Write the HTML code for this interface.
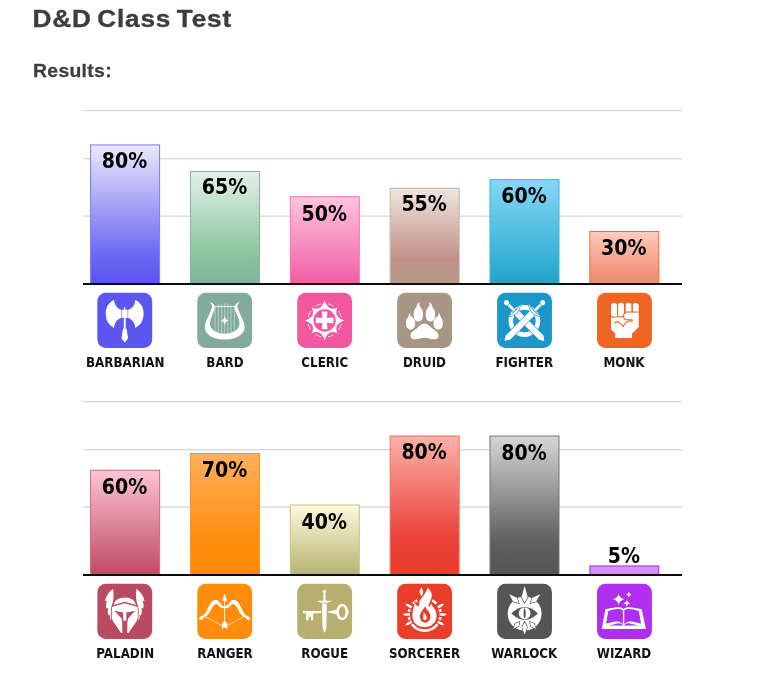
<!DOCTYPE html>
<html lang="en">
<head>
<meta charset="utf-8">
<title>D&amp;D Class Test</title>
<style>
html,body{margin:0;padding:0;background:#fff;}
body{width:768px;height:693px;position:relative;overflow:hidden;font-family:"Liberation Sans",sans-serif;}
h1{position:absolute;left:32px;top:3px;margin:0;font:bold 24.5px/30px "Liberation Sans",sans-serif;color:#403c3c;letter-spacing:0.75px;word-spacing:-2.2px;white-space:nowrap;transform:translate(0.5px,0.3px) scale(1.068,1.01);transform-origin:0 0;-webkit-text-stroke:0.35px #403c3c;}
h2{position:absolute;left:33px;top:58px;margin:0;font:bold 19px/24px "Liberation Sans",sans-serif;color:#403c3c;letter-spacing:0.3px;white-space:nowrap;transform:translate(0px,0.5px) scale(1.02,1.01);transform-origin:0 0;-webkit-text-stroke:0.25px #403c3c;}
#gfx{position:absolute;left:0;top:0;width:768px;height:693px;display:block;}
.pct{position:absolute;width:100px;height:20px;text-align:center;font:bold 19px/20px "DejaVu Sans",sans-serif;color:#000;white-space:nowrap;transform:scaleY(1.1);transform-origin:50% 50%;}
.lbl{position:absolute;width:120px;text-align:center;font:bold 13.9px/16px "DejaVu Sans Condensed","DejaVu Sans",sans-serif;color:#111;white-space:nowrap;transform:translate(0.3px,0.4px) scale(0.952,1.03);transform-origin:50% 50%;}
</style>
</head>
<body>
<h1>D&amp;D Class Test</h1>
<h2>Results:</h2>

<svg id="gfx" width="768" height="693" viewBox="0 0 768 693">
<defs><linearGradient id="g-barbarian" x1="0" y1="0" x2="0" y2="1"><stop offset="0" stop-color="#ebe9fc"/><stop offset="0.80" stop-color="#6b66f2"/><stop offset="1" stop-color="#5a54f0"/></linearGradient><linearGradient id="g-bard" x1="0" y1="0" x2="0" y2="1"><stop offset="0" stop-color="#e4f0e9"/><stop offset="0.73" stop-color="#8cc59f"/><stop offset="1" stop-color="#80b39c"/></linearGradient><linearGradient id="g-cleric" x1="0" y1="0" x2="0" y2="1"><stop offset="0" stop-color="#ffc4de"/><stop offset="0.73" stop-color="#f47ab4"/><stop offset="1" stop-color="#f25ca3"/></linearGradient><linearGradient id="g-druid" x1="0" y1="0" x2="0" y2="1"><stop offset="0" stop-color="#efe6df"/><stop offset="0.74" stop-color="#c09088"/><stop offset="1" stop-color="#b59a85"/></linearGradient><linearGradient id="g-fighter" x1="0" y1="0" x2="0" y2="1"><stop offset="0" stop-color="#84d9f7"/><stop offset="0.73" stop-color="#3cb1d6"/><stop offset="1" stop-color="#22a3c9"/></linearGradient><linearGradient id="g-monk" x1="0" y1="0" x2="0" y2="1"><stop offset="0" stop-color="#fdccbc"/><stop offset="0.78" stop-color="#f1937c"/><stop offset="1" stop-color="#ef8c72"/></linearGradient><linearGradient id="g-paladin" x1="0" y1="0" x2="0" y2="1"><stop offset="0" stop-color="#fcc4d2"/><stop offset="0.73" stop-color="#d06b81"/><stop offset="1" stop-color="#c04a62"/></linearGradient><linearGradient id="g-ranger" x1="0" y1="0" x2="0" y2="1"><stop offset="0" stop-color="#ffb05c"/><stop offset="0.73" stop-color="#ff8c0c"/><stop offset="1" stop-color="#ff8a08"/></linearGradient><linearGradient id="g-rogue" x1="0" y1="0" x2="0" y2="1"><stop offset="0" stop-color="#fbfbdc"/><stop offset="0.73" stop-color="#cbc68e"/><stop offset="1" stop-color="#b9b275"/></linearGradient><linearGradient id="g-sorcerer" x1="0" y1="0" x2="0" y2="1"><stop offset="0" stop-color="#fcb2a9"/><stop offset="0.73" stop-color="#e9413a"/><stop offset="1" stop-color="#ea3e28"/></linearGradient><linearGradient id="g-warlock" x1="0" y1="0" x2="0" y2="1"><stop offset="0" stop-color="#d6d6d6"/><stop offset="0.76" stop-color="#5f5f5f"/><stop offset="1" stop-color="#555555"/></linearGradient><linearGradient id="g-wizard" x1="0" y1="0" x2="0" y2="1"><stop offset="0" stop-color="#d98ffb"/><stop offset="0.50" stop-color="#d98ffb"/><stop offset="1" stop-color="#d98ffb"/></linearGradient></defs>
<rect x="83" y="110.00" width="599" height="1.10" fill="#d2d2d2"/>
<rect x="83" y="158.20" width="599" height="1.10" fill="#d2d2d2"/>
<rect x="83" y="215.40" width="599" height="1.50" fill="#dcdcdc"/>
<rect x="90.60" y="144.90" width="69.00" height="139.10" fill="url(#g-barbarian)" stroke="#7f7af3" stroke-width="1.0"/>
<rect x="190.45" y="171.50" width="69.00" height="112.50" fill="url(#g-bard)" stroke="#86b3a0" stroke-width="1.0"/>
<rect x="290.30" y="196.75" width="69.00" height="87.25" fill="url(#g-cleric)" stroke="#f572b0" stroke-width="1.0"/>
<rect x="390.15" y="188.25" width="69.00" height="95.75" fill="url(#g-druid)" stroke="#c4b4a5" stroke-width="1.0"/>
<rect x="490.00" y="179.60" width="69.00" height="104.40" fill="url(#g-fighter)" stroke="#45b2dc" stroke-width="1.0"/>
<rect x="589.85" y="231.50" width="69.00" height="52.50" fill="url(#g-monk)" stroke="#f06a30" stroke-width="1.0"/>
<rect x="83" y="283" width="599" height="2" fill="#0b0b0b"/>
<rect x="97.35" y="292.70" width="54.85" height="55.20" rx="8.5" ry="8.5" fill="#5c56f0"/>
<svg x="97.35" y="292.70" width="54.85" height="55.20" viewBox="0 0 55 55" preserveAspectRatio="none" fill="#fff"><path d="M16.7 7.3C11 10 8.4 15 8.4 20.6C8.4 27 11 32.3 16.7 35.05C17.3 30 20 26.3 23.9 25.3V17C20 16 17.3 12.3 16.7 7.3Z"/><path d="M38.1 7.3 C43.8 10 46.4 15 46.4 20.6 C46.4 27 43.8 32.3 38.1 35.05 C37.5 30 34.8 26.3 30.9 25.3 V17 C34.8 16 37.5 12.3 38.1 7.3Z"/><path d="M23.9 17H30.9V25.3H23.9Z" opacity=".5"/><path d="M24.95 17H29.95V25.3H24.95Z"/><path d="M26.8 17V15L27.5 14.1L28.2 15V17Z"/><path d="M26.5 25.3H28.4V35.9H29.3L30.9 45.5L27.5 49.5L24.2 45.5L25.6 35.9H26.5Z"/></svg>
<rect x="197.29" y="292.70" width="54.85" height="55.20" rx="8.5" ry="8.5" fill="#82ab9e"/>
<svg x="197.29" y="292.70" width="54.85" height="55.20" viewBox="0 0 55 55" preserveAspectRatio="none" fill="#fff"><path d="M12.2 9C14.3 10.8 15.3 13 14.5 15.5C13 20 9.5 26 8 31C6 38 10.5 43.2 18 45.4C21 46.3 24.5 46.7 27.5 46.7C30.5 46.7 34 46.3 37 45.4C44.500 43.2 49 38 47 31C45.5 26 42 20 40.5 15.5C39.7 13 40.7 10.8 42.8 9C40.5 9.600 38 11.2 37.5 13.8C37.3 16 38.5 19 39.8 22C41.5 26 43 29.5 42 33C40.5 38 34 40.900 27.5 40.900C21 40.900 14.5 38 13 33C12 29.5 13.5 26 15.2 22C16.5 19 17.7 16 17.5 13.8C17 11.2 14.5 9.600 12.2 9Z"/><path d="M16.800 13.8H38.2" stroke="#fff" stroke-width=".8" fill="none"/><path d="M17.8 13.5V38M21.2 12V40M24.4 11V41M27.5 10.3V41M30.600 11V41M33.8 12V40M37.2 13.5V38" stroke="#fff" stroke-width=".55" stroke-opacity=".75" fill="none"/><path d="M27.5 23C27.9 26 29 27.2 31.800 27.8C29 28.4 27.9 29.600 27.5 32.600C27.100 29.600 26 28.4 23.2 27.8C26 27.2 27.100 26 27.5 23Z"/></svg>
<rect x="297.23" y="292.70" width="54.85" height="55.20" rx="8.5" ry="8.5" fill="#f2589f"/>
<svg x="297.23" y="292.70" width="54.85" height="55.20" viewBox="0 0 55 55" preserveAspectRatio="none" fill="#fff"><path fill-rule="evenodd" d="M27.50 7.80Q31.02 19.10 40.37 14.73Q36.00 24.08 47.30 27.60Q36.00 31.12 40.37 40.47Q31.02 36.10 27.50 47.40Q23.98 36.10 14.63 40.47Q19.00 31.12 7.70 27.60Q19.00 24.08 14.63 14.73Q23.98 19.10 27.50 7.80ZM16.30 27.60A11.20 11.20 0 1 0 38.70 27.60A11.20 11.20 0 1 0 16.30 27.60Z"/><path d="M24.60 18.80L30.40 18.80L29.80 25.30L36.30 24.70L36.30 30.50L29.80 29.90L30.40 36.40L24.60 36.40L25.20 29.90L18.70 30.50L18.70 24.70L25.20 25.30Z"/><path d="M31.28 11.23A16.80 16.80 0 0 1 36.40 13.35M41.75 18.70A16.80 16.80 0 0 1 43.87 23.82M43.87 31.38A16.80 16.80 0 0 1 41.75 36.50M36.40 41.85A16.80 16.80 0 0 1 31.28 43.97M23.72 43.97A16.80 16.80 0 0 1 18.60 41.85M13.25 36.50A16.80 16.80 0 0 1 11.13 31.38M11.13 23.82A16.80 16.80 0 0 1 13.25 18.70M18.60 13.35A16.80 16.80 0 0 1 23.72 11.23" stroke="#fff" stroke-width=".7" fill="none" stroke-linecap="round"/></svg>
<rect x="397.17" y="292.70" width="54.85" height="55.20" rx="8.5" ry="8.5" fill="#a69683"/>
<svg x="397.17" y="292.70" width="54.85" height="55.20" viewBox="0 0 55 55" preserveAspectRatio="none" fill="#fff"><path d="M23.1 9.2C22.2 10.3 21.9 11.2 22.2 12.3C22.5 13.4 23.3 14.3 24 15.2C25.4 16.8 26 19 26 21.9C26 26 24 28.7 21.25 28.7C18.5 28.7 16.5 26 16.5 21.9C16.5 19 17.3 16.6 18.8 15C19.6 14 19.9 13 20 12C20.2 10.8 21.3 9.9 23.1 9.2Z"/><path d="M31.5 9.2 C32.4 10.3 32.7 11.2 32.4 12.3 C32.1 13.4 31.3 14.3 30.6 15.2 C29.2 16.8 28.6 19 28.6 21.9 C28.6 26 30.6 28.7 33.35 28.7 C36.1 28.7 38.1 26 38.1 21.9 C38.1 19 37.3 16.6 35.8 15 C35 14 34.7 13 34.6 12 C34.4 10.8 33.3 9.9 31.5 9.2Z"/><path d="M13.6 19.7C12.9 20.7 12.8 21.5 13.2 22.4C13.7 23.3 14.8 23.9 15.8 24.7C17.4 26.1 18.2 28 18.2 30.5C18.2 34.3 16.2 36.75 13.45 36.75C10.7 36.75 8.7 34.3 8.7 30.5C8.7 28 9.4 26 10.6 24.6C11.3 23.7 11.4 23 11.5 22.3C11.7 21.2 12.3 20.3 13.6 19.7Z"/><path d="M41 19.7 C41.7 20.7 41.8 21.5 41.4 22.4 C40.9 23.3 39.8 23.9 38.8 24.7 C37.2 26.1 36.4 28 36.4 30.5 C36.4 34.3 38.4 36.75 41.15 36.75 C43.9 36.75 45.9 34.3 45.9 30.5 C45.9 28 45.2 26 44 24.6 C43.3 23.7 43.2 23 43.1 22.3 C42.9 21.2 42.3 20.3 41 19.7Z"/><path d="M27.4 30.7C30.4 30.7 32.4 33 34.9 35.5C37.4 37.5 41.4 39 41.4 42.8C41.4 45.5 39.4 46.6 36.9 46.4C33.4 46.1 30.9 44.8 27.4 44.8C23.9 44.8 21.4 46.1 17.9 46.4C15.4 46.6 13.4 45.5 13.4 42.8C13.4 39 17.4 37.5 19.9 35.5C22.4 33 24.4 30.7 27.4 30.7Z"/></svg>
<rect x="497.11" y="292.70" width="54.85" height="55.20" rx="8.5" ry="8.5" fill="#1b97c9"/>
<svg x="497.11" y="292.70" width="54.85" height="55.20" viewBox="0 0 55 55" preserveAspectRatio="none" fill="#fff"><circle cx="27.35" cy="28.2" r="13.6" fill="none" stroke="#fff" stroke-width="4.6"/><g transform="translate(9.4 9.9) rotate(45)" stroke="#1b97c9" stroke-width="1.2" paint-order="stroke" stroke-linejoin="round"><path d="M0 -1.35H13V1.35H0Z"/><circle cx="0" cy="0" r="2.5"/><path d="M14.2 -3.1H49.3L53.9 0.3L49.3 3.1H14.2Z"/><path d="M10.6 -9.2C13.2 -6 14.4 -3 14.4 0C14.4 3 13.2 6 10.6 9.2C11.9 6 12.2 3 12.2 0C12.2 -3 11.9 -6 10.6 -9.2Z"/></g><g transform="translate(45.7 9.9) rotate(135)" stroke="#1b97c9" stroke-width="1.2" paint-order="stroke" stroke-linejoin="round"><path d="M0 -1.35H13V1.35H0Z"/><circle cx="0" cy="0" r="2.5"/><path d="M14.2 -3.1H49.3L53.9 0.3L49.3 3.1H14.2Z"/><path d="M10.6 -9.2C13.2 -6 14.4 -3 14.4 0C14.4 3 13.2 6 10.6 9.2C11.9 6 12.2 3 12.2 0C12.2 -3 11.9 -6 10.6 -9.2Z"/></g></svg>
<rect x="597.05" y="292.70" width="54.85" height="55.20" rx="8.5" ry="8.5" fill="#f06424"/>
<svg x="597.05" y="292.70" width="54.85" height="55.20" viewBox="0 0 55 55" preserveAspectRatio="none" fill="#fff"><path d="M14.05 24.00V13.25a3.05 3.05 0 0 1 6.10 0V24.00ZM21.05 24.00V13.05a3.05 3.05 0 0 1 6.10 0V24.00ZM28.55 21.00V13.05a3.05 3.05 0 0 1 6.10 0V21.00ZM35.75 21.00V13.25a3.05 3.05 0 0 1 6.10 0V21.00ZM14.05 20H41.85V34.3L35.1 40.6V45.2H18.3V40.6L14.05 36.4Z"/><path d="M20.6 12V23.6M27.85 12V20.6M35.2 12V19.2M41.85 19.3H30.2C27.8 19.3 26.6 21 26.6 23.1C26.6 25.3 28 27 30.2 27H35.3V28M14.05 23.5Q17.2 25.2 20.6 23.6Q23.8 24.8 26.8 23.3M17.65 30.2Q20.3 27.8 23 30.3Q24.8 32 26.2 33.8Q27.5 30 30.5 28.7Q32.8 27.9 35.3 27.9" fill="none" stroke="#f06424" stroke-width="1.05" stroke-linecap="round" stroke-linejoin="round"/></svg>
<rect x="83" y="401.00" width="599" height="1.10" fill="#d2d2d2"/>
<rect x="83" y="449.20" width="599" height="1.10" fill="#d2d2d2"/>
<rect x="83" y="506.40" width="599" height="1.50" fill="#dcdcdc"/>
<rect x="90.60" y="470.25" width="69.00" height="104.75" fill="url(#g-paladin)" stroke="#d06a80" stroke-width="1.0"/>
<rect x="190.45" y="453.50" width="69.00" height="121.50" fill="url(#g-ranger)" stroke="#f7961f" stroke-width="1.0"/>
<rect x="290.30" y="505.00" width="69.00" height="70.00" fill="url(#g-rogue)" stroke="#c6c088" stroke-width="1.0"/>
<rect x="390.15" y="436.00" width="69.00" height="139.00" fill="url(#g-sorcerer)" stroke="#f0705f" stroke-width="1.0"/>
<rect x="490.00" y="436.00" width="69.00" height="139.00" fill="url(#g-warlock)" stroke="#777777" stroke-width="1.0"/>
<rect x="589.95" y="566.00" width="68.80" height="9.00" fill="url(#g-wizard)" stroke="#b23cee" stroke-width="1.2"/>
<rect x="83" y="574" width="599" height="2" fill="#0b0b0b"/>
<rect x="97.35" y="583.70" width="54.85" height="55.20" rx="8.5" ry="8.5" fill="#b84a62"/>
<svg x="97.35" y="583.70" width="54.85" height="55.20" viewBox="0 0 55 55" preserveAspectRatio="none" fill="#fff"><path d="M27.5 19.4L14.5 23.3V34.4L15.7 37.3L23.8 49.1H25.05L24.9 37.85L24.1 34.4L17.1 27L25.9 28.6V35.4Q25.9 36.9 27.5 36.9Q29.1 36.9 29.1 35.4V28.6L37.9 27L30.9 34.4L30.1 37.85L29.95 49.1H31.2L39.3 37.3L40.5 34.4V23.3Z"/><path d="M16.3 21.3C17 16.5 21.5 13.7 27.5 13.7C33.5 13.7 38 16.5 38.7 21.3L27.5 17.9Z"/><path d="M15.8 5.3C12 8 8.5 12 7.8 17.2L9.8 17.2C8.4 20 8.4 22.5 9 24.6L10.9 24C9.9 27 10.4 29.8 11.4 31.6L12.6 30.8C12.3 33.5 13 35.8 13.8 37L13.6 24.2C14.6 21.5 16 18 16.2 14C16.3 10 16.1 7 15.8 5.3Z"/><path d="M39.2 5.3 C43 8 46.5 12 47.2 17.2 L45.2 17.2 C46.6 20 46.6 22.5 46 24.6 L44.1 24 C45.1 27 44.6 29.8 43.6 31.6 L42.4 30.8 C42.7 33.5 42 35.8 41.2 37 L41.4 24.2 C40.4 21.5 39 18 38.8 14 C38.7 10 38.9 7 39.2 5.3Z"/></svg>
<rect x="197.29" y="583.70" width="54.85" height="55.20" rx="8.5" ry="8.5" fill="#ff8c0a"/>
<svg x="197.29" y="583.70" width="54.85" height="55.20" viewBox="0 0 55 55" preserveAspectRatio="none" fill="#fff"><path d="M27.4 22.4C26 22.5 24.8 21.8 23.65 20.5C22 18.3 20.8 16.100 18.9 16.100C16.800 16.100 15 17.2 13.8 18.7C11.7 21.3 10.8 24 9.5 26.600C8.4 28.9 7.3 30.600 5.600 31.7C4.2 32.4 2.100 32.9 1.9 34.600C1.800 36.100 3.5 36.4 4.800 35.7C5.9 35.100 6.4 34.100 7.2 33.5C8.600 32.5 10.5 31.4 11.7 29.600C13.2 27.2 14 24.7 15.600 22.600C16.700 21.2 17.900 20.2 19.3 20.2C20.800 20.2 21.5 22.600 23.4 23.800C24.700 24.5 26 24.5 27.4 24.4Z"/><path d="M27.4 22.4 C28.8 22.5 30 21.8 31.15 20.5 C32.8 18.3 34 16.1 35.9 16.1 C38 16.1 39.8 17.2 41 18.7 C43.1 21.3 44 24 45.3 26.6 C46.4 28.9 47.5 30.6 49.2 31.7 C50.6 32.4 52.7 32.9 52.9 34.6 C53 36.1 51.3 36.4 50 35.7 C48.9 35.1 48.4 34.1 47.6 33.5 C46.2 32.5 44.3 31.4 43.1 29.6 C41.6 27.2 40.8 24.7 39.2 22.6 C38.1 21.2 36.9 20.2 35.5 20.2 C34 20.2 33.3 22.6 31.4 23.8 C30.1 24.5 28.8 24.5 27.4 24.4Z"/><path d="M6.3 31.800L27.4 43.2L48.5 31.800" fill="none" stroke="#fff" stroke-width=".7" stroke-opacity=".9"/><path d="M27.4 9.5L30 17.3Q27.4 16.100 24.800 17.3Z"/><path d="M26.9 16H27.9V39H26.9Z"/><path d="M27.4 37L30.100 40V45.2L27.4 43.2L24.700 45.2V40Z"/></svg>
<rect x="297.23" y="583.70" width="54.85" height="55.20" rx="8.5" ry="8.5" fill="#b8ae70"/>
<svg x="297.23" y="583.70" width="54.85" height="55.20" viewBox="0 0 55 55" preserveAspectRatio="none" fill="#fff"><circle cx="27.3" cy="7.7" r="1.65"/><path d="M26.4 8.5H28.2L28.5 17.2H26.1Z"/><path d="M19.7 17H34.9C33 18.5 30.5 19.1 27.3 19.1C24.1 19.1 21.6 18.5 19.7 17Z"/><path d="M24.9 19.7H29.7L29.2 44Q28.7 47.5 27.3 48.9Q25.9 47.5 25.4 44Z"/><path d="M5.8 27.1H23.9V29.4H16V36.5H13.7V33.9Q13.7 32.8 12.5 32.8Q11.3 32.8 11.3 33.9V36.5H8.8V29.4H5.8Z"/><path d="M30.6 28.2L32 27.3L33 27.6L34 26.8L35 27.2L36 26.3L37 26.8L38 26L39.6 26.6V29.8L38 30.4L37 29.6L36 30.1L35 29.2L34 29.6L33 28.8L32 29.1Z"/><path fill-rule="evenodd" d="M39.1 28.3C39.1 23.7 41.8 20.3 45.1 20.3C48 20.3 50.2 22.8 50.9 26.3L51.9 28.3L50.9 30.3C50.2 33.800 48 36.3 45.1 36.3C41.8 36.3 39.1 32.9 39.1 28.3ZM41.8 28.3C41.8 31.6 43.3 34 45.1 34C46.8 34 48.1 32.100 48.5 29.3L47.9 28.3L48.5 27.3C48.1 24.5 46.8 22.600 45.1 22.600C43.3 22.600 41.8 25 41.8 28.3Z"/></svg>
<rect x="397.17" y="583.70" width="54.85" height="55.20" rx="8.5" ry="8.5" fill="#ea3e2a"/>
<svg x="397.17" y="583.70" width="54.85" height="55.20" viewBox="0 0 55 55" preserveAspectRatio="none" fill="#fff"><path d="M40.38 40.33A16.00 16.00 0 0 1 14.82 40.33M43.40 33.20A16.00 16.00 0 0 1 42.73 35.91M42.73 25.49A16.00 16.00 0 0 1 43.40 28.20M12.47 35.91A16.00 16.00 0 0 1 11.80 33.20M11.80 28.20A16.00 16.00 0 0 1 12.47 25.49M35.11 16.57A16.00 16.00 0 0 1 39.30 19.79M15.90 19.79A16.00 16.00 0 0 1 20.09 16.57" fill="none" stroke="#fff" stroke-width="2.6"/><path d="M42.50 29.35L47.00 29.40L49.90 30.70L47.00 32.00L42.50 32.05ZM41.33 36.65L45.26 38.85L47.18 41.37L44.01 41.13L40.04 39.02ZM40.04 22.38L44.01 20.27L47.18 20.03L45.26 22.55L41.33 24.75ZM12.70 32.05L8.20 32.00L5.30 30.70L8.20 29.40L12.70 29.35ZM15.16 39.02L11.19 41.13L8.02 41.37L9.94 38.85L13.87 36.65ZM13.87 24.75L9.94 22.55L8.02 20.03L11.19 20.27L15.16 22.38Z"/><path fill-rule="evenodd" stroke="#ea3e2a" stroke-width="1.4" paint-order="stroke" d="M27.4 43.3C20 43.3 15.3 38.5 15.3 32C15.3 27 16.5 23 18 18.7C18.5 21 19.8 22.5 21.7 22.8C21.5 19 22.5 16.5 24.3 14.5C26 12.5 28.5 9.5 30.7 4C33.8 6.8 35.3 10 34.6 13.5C33.8 16.5 32 19.5 31.3 22.4L32.4 23.2C32.8 22 33.5 21 34.3 19.9C35 22.5 37 24 38.1 25.9C39.2 28 39.5 30 39.5 32C39.5 38.5 34.8 43.3 27.4 43.3ZM27.8 22.2C27.5 25 22.9 28 22.9 32.5C22.9 36.3 25.3 38.9 27.9 38.9C30.7 38.9 33.3 36.3 33.3 32.5C33.3 28 29 26 27.8 22.2Z"/><path d="M26.6 27.8C27.2 30 29.6 31.3 29.6 33.6C29.6 35.3 28.8 36.3 27.8 36.3C26.7 36.3 26.1 35.3 26.1 34C26.1 31.6 26.9 30.6 26.6 27.8Z"/><path stroke="#ea3e2a" stroke-width=".8" paint-order="stroke" d="M24.3 3.3C25 5.5 26.4 7 26 9.5C25.700 11 24.6 11.800 24.1 12.5C24 11 22.3 10 22.4 8C22.5 6 24 5 24.3 3.3Z"/></svg>
<rect x="497.11" y="583.70" width="54.85" height="55.20" rx="8.5" ry="8.5" fill="#555555"/>
<svg x="497.11" y="583.70" width="54.85" height="55.20" viewBox="0 0 55 55" preserveAspectRatio="none" fill="#fff"><circle cx="27.60" cy="29.8" r="17.0"/><path fill="#555555" d="M14.3 29.6Q27.6 16.8 40.9 29.6Q27.6 42.4 14.3 29.6Z"/><circle cx="27.60" cy="29.5" r="5.9"/><ellipse cx="27.60" cy="29.5" rx="1.1" ry="4.9" fill="#555555"/><path d="M12.05 10.50L19.84 13.89L21.70 19.20L16.23 17.90Z" stroke="#555555" stroke-width="1.3" paint-order="stroke" stroke-linejoin="miter"/><path d="M43.15 10.50L38.97 17.90L33.50 19.20L35.36 13.89Z" stroke="#555555" stroke-width="1.3" paint-order="stroke" stroke-linejoin="miter"/><path d="M27.60 2.20L30.70 13.32L27.60 18.80L24.50 13.32Z" stroke="#555555" stroke-width="1.3" paint-order="stroke" stroke-linejoin="miter"/><path d="M16.40 44.90L18.17 39.56L22.30 38.20L21.47 42.47Z" stroke="#555555" stroke-width="1.3" paint-order="stroke" stroke-linejoin="miter"/><path d="M38.80 44.90L33.73 42.47L32.90 38.20L37.03 39.56Z" stroke="#555555" stroke-width="1.3" paint-order="stroke" stroke-linejoin="miter"/><path d="M27.60 50.90L25.10 43.41L27.60 38.20L30.10 43.41Z" stroke="#555555" stroke-width="1.3" paint-order="stroke" stroke-linejoin="miter"/></svg>
<rect x="597.05" y="583.70" width="54.85" height="55.20" rx="8.5" ry="8.5" fill="#b02ef0"/>
<svg x="597.05" y="583.70" width="54.85" height="55.20" viewBox="0 0 55 55" preserveAspectRatio="none" fill="#fff"><path d="M4.7 45.2L8.4 25.5C13 24.6 17 23.5 21 23.5C23.5 23.5 25.3 24.2 26.6 25.2C27.9 24.2 29.7 23.5 32.2 23.5C36.2 23.5 40.2 24.6 44.8 25.5L49 45.2Z"/><path fill="#b02ef0" d="M11.25 27.2C15 26 18 25.2 21 25.2C23 25.2 24.7 25.6 25.9 26.4V40.7C24.5 38.6 22 37.4 19.5 37.6C16 37.9 12 39 9.1 39.7ZM41.95 27.2 C38.2 26 35.2 25.2 32.2 25.2 C30.2 25.2 28.5 25.6 27.3 26.4 V40.7 C28.7 38.6 31.2 37.4 33.7 37.6 C37.2 37.9 41.2 39 44.1 39.7ZM10.9 41.9C15 41 19.5 39.6 22.4 39.5C23.8 39.5 25 40.3 25.8 41.8C21 41.5 15.5 41.6 10.9 41.9ZM42.3 41.9 C38.2 41 33.7 39.6 30.8 39.5 C29.4 39.5 28.2 40.3 27.4 41.8 C32.2 41.5 37.7 41.6 42.3 41.9Z"/><path d="M21.60 9.70Q22.51 14.49 27.30 15.40Q22.51 16.31 21.60 21.10Q20.69 16.31 15.90 15.40Q20.69 14.49 21.60 9.70ZM31.80 8.00Q32.23 10.27 34.50 10.70Q32.23 11.13 31.80 13.40Q31.37 11.13 29.10 10.70Q31.37 10.27 31.80 8.00ZM29.80 16.30Q30.33 19.07 33.10 19.60Q30.33 20.13 29.80 22.90Q29.27 20.13 26.50 19.60Q29.27 19.07 29.80 16.30Z"/></svg>
</svg>
<div class="pct" style="left:74px;top:150px;transform:translate(0.60px,0.60px) scaleY(1.1)">80%</div>
<div class="lbl" style="left:65px;top:353px;transform:translate(0.25px,0.4px) scale(0.952,1.03)">BARBARIAN</div>
<div class="pct" style="left:174px;top:176px;transform:translate(0.45px,0.25px) scaleY(1.1)">65%</div>
<div class="lbl" style="left:165px;top:353px;transform:translate(0.00px,0.4px) scale(0.952,1.03)">BARD</div>
<div class="pct" style="left:274px;top:202px;transform:translate(0.30px,0.80px) scaleY(1.1)">50%</div>
<div class="lbl" style="left:264px;top:353px;transform:translate(0.75px,0.4px) scale(0.952,1.03)">CLERIC</div>
<div class="pct" style="left:374px;top:193px;transform:translate(0.15px,0.00px) scaleY(1.1)">55%</div>
<div class="lbl" style="left:364px;top:353px;transform:translate(0.50px,0.4px) scale(0.952,1.03)">DRUID</div>
<div class="pct" style="left:474px;top:184px;transform:translate(0.00px,0.95px) scaleY(1.1)">60%</div>
<div class="lbl" style="left:464px;top:353px;transform:translate(0.25px,0.4px) scale(0.952,1.03)">FIGHTER</div>
<div class="pct" style="left:573px;top:237px;transform:translate(0.85px,0.00px) scaleY(1.1)">30%</div>
<div class="lbl" style="left:564px;top:353px;transform:translate(0.00px,0.4px) scale(0.952,1.03)">MONK</div>
<div class="pct" style="left:74px;top:476px;transform:translate(0.60px,0.00px) scaleY(1.1)">60%</div>
<div class="lbl" style="left:65px;top:644px;transform:translate(0.25px,0.4px) scale(0.952,1.03)">PALADIN</div>
<div class="pct" style="left:174px;top:459px;transform:translate(0.45px,0.50px) scaleY(1.1)">70%</div>
<div class="lbl" style="left:165px;top:644px;transform:translate(0.00px,0.4px) scale(0.952,1.03)">RANGER</div>
<div class="pct" style="left:274px;top:511px;transform:translate(0.30px,0.10px) scaleY(1.1)">40%</div>
<div class="lbl" style="left:264px;top:644px;transform:translate(0.75px,0.4px) scale(0.952,1.03)">ROGUE</div>
<div class="pct" style="left:374px;top:441px;transform:translate(0.15px,0.75px) scaleY(1.1)">80%</div>
<div class="lbl" style="left:364px;top:644px;transform:translate(0.50px,0.4px) scale(0.952,1.03)">SORCERER</div>
<div class="pct" style="left:474px;top:442px;transform:translate(0.00px,0.00px) scaleY(1.1)">80%</div>
<div class="lbl" style="left:464px;top:644px;transform:translate(0.25px,0.4px) scale(0.952,1.03)">WARLOCK</div>
<div class="pct" style="left:573px;top:545px;transform:translate(0.85px,0.40px) scaleY(1.1)">5%</div>
<div class="lbl" style="left:564px;top:644px;transform:translate(0.00px,0.4px) scale(0.952,1.03)">WIZARD</div>
</body>
</html>
